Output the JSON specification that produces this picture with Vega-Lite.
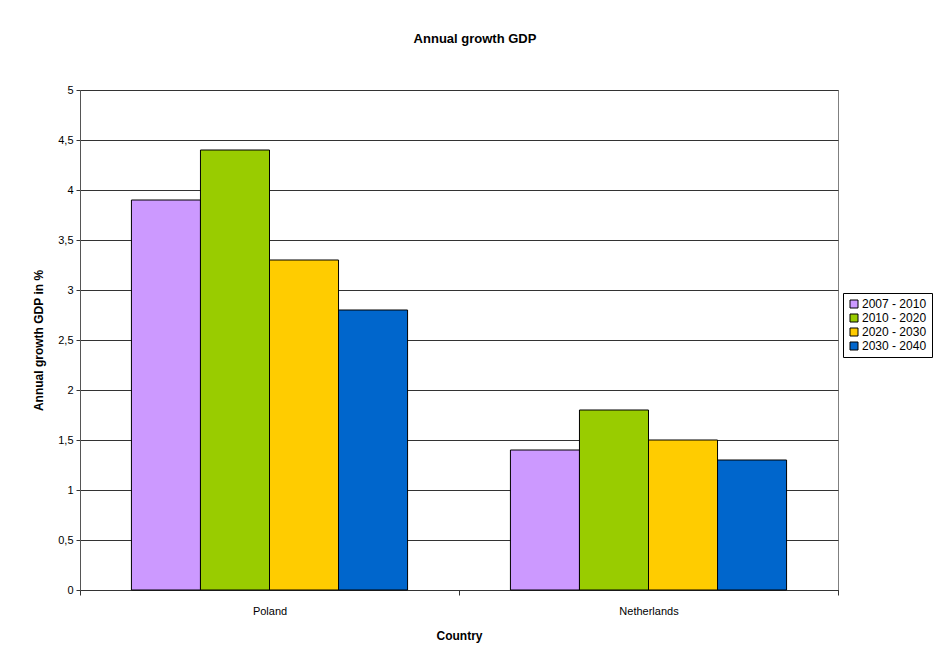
{
  "$schema": "https://vega.github.io/schema/vega-lite/v6.json",
  "autosize": "none",
  "width": 758,
  "height": 500,
  "padding": {"left": 80, "top": 90, "right": 99, "bottom": 79},
  "background": "white",
  "title": {
    "text": "Annual growth GDP",
    "font": "Liberation Sans",
    "fontSize": 13,
    "fontWeight": "bold",
    "color": "black",
    "anchor": "middle",
    "dx": 16,
    "offset": 38
  },
  "data": {
    "values": [
      {"country": "Poland", "period": "2007 - 2010", "growth": 3.9},
      {"country": "Poland", "period": "2010 - 2020", "growth": 4.4},
      {"country": "Poland", "period": "2020 - 2030", "growth": 3.3},
      {"country": "Poland", "period": "2030 - 2040", "growth": 2.8},
      {"country": "Netherlands", "period": "2007 - 2010", "growth": 1.4},
      {"country": "Netherlands", "period": "2010 - 2020", "growth": 1.8},
      {"country": "Netherlands", "period": "2020 - 2030", "growth": 1.5},
      {"country": "Netherlands", "period": "2030 - 2040", "growth": 1.3}
    ]
  },
  "mark": {"type": "bar", "stroke": "black", "strokeWidth": 1},
  "encoding": {
    "x": {
      "field": "country",
      "type": "nominal",
      "sort": ["Poland", "Netherlands"],
      "scale": {"paddingInner": 0, "paddingOuter": 0},
      "axis": {
        "title": "Country",
        "titleFont": "Liberation Sans",
        "titleFontSize": 12,
        "titleFontWeight": "bold",
        "titleColor": "black",
        "titlePadding": 14,
        "labelAngle": 0,
        "labelFont": "Liberation Sans",
        "labelFontSize": 11,
        "labelColor": "black",
        "labelPadding": 10,
        "tickBand": "extent",
        "tickSize": 5,
        "tickColor": "#333333",
        "domainColor": "#333333",
        "grid": false
      }
    },
    "xOffset": {
      "field": "period",
      "type": "nominal",
      "scale": {"paddingInner": 0, "paddingOuter": 0.745}
    },
    "y": {
      "field": "growth",
      "type": "quantitative",
      "scale": {"domain": [0, 5], "nice": false},
      "axis": {
        "title": "Annual growth GDP in %",
        "titleFont": "Liberation Sans",
        "titleFontSize": 12,
        "titleFontWeight": "bold",
        "titleColor": "black",
        "titlePadding": 12,
        "values": [0, 0.5, 1, 1.5, 2, 2.5, 3, 3.5, 4, 4.5, 5],
        "labelExpr": "replace(format(datum.value, '~g'), '.', ',')",
        "labelFont": "Liberation Sans",
        "labelFontSize": 11,
        "labelColor": "black",
        "labelPadding": 3,
        "tickSize": 4,
        "tickColor": "#333333",
        "domainColor": "#555555",
        "grid": true,
        "gridColor": "#333333",
        "gridOpacity": 1,
        "gridWidth": 1
      }
    },
    "color": {
      "field": "period",
      "type": "nominal",
      "scale": {
        "domain": ["2007 - 2010", "2010 - 2020", "2020 - 2030", "2030 - 2040"],
        "range": ["#CC99FF", "#99CC00", "#FFCC00", "#0066CC"]
      },
      "legend": {
        "title": null,
        "orient": "none",
        "legendX": 763,
        "legendY": 203,
        "symbolType": "square",
        "symbolSize": 64,
        "symbolStrokeColor": "black",
        "symbolStrokeWidth": 1,
        "labelFont": "Liberation Sans",
        "labelFontSize": 12,
        "labelColor": "black",
        "labelOffset": 2,
        "rowPadding": 2,
        "padding": 5,
        "strokeColor": "black",
        "fillColor": "white"
      }
    }
  },
  "config": {
    "view": {"stroke": "#808080", "strokeWidth": 1}
  }
}
